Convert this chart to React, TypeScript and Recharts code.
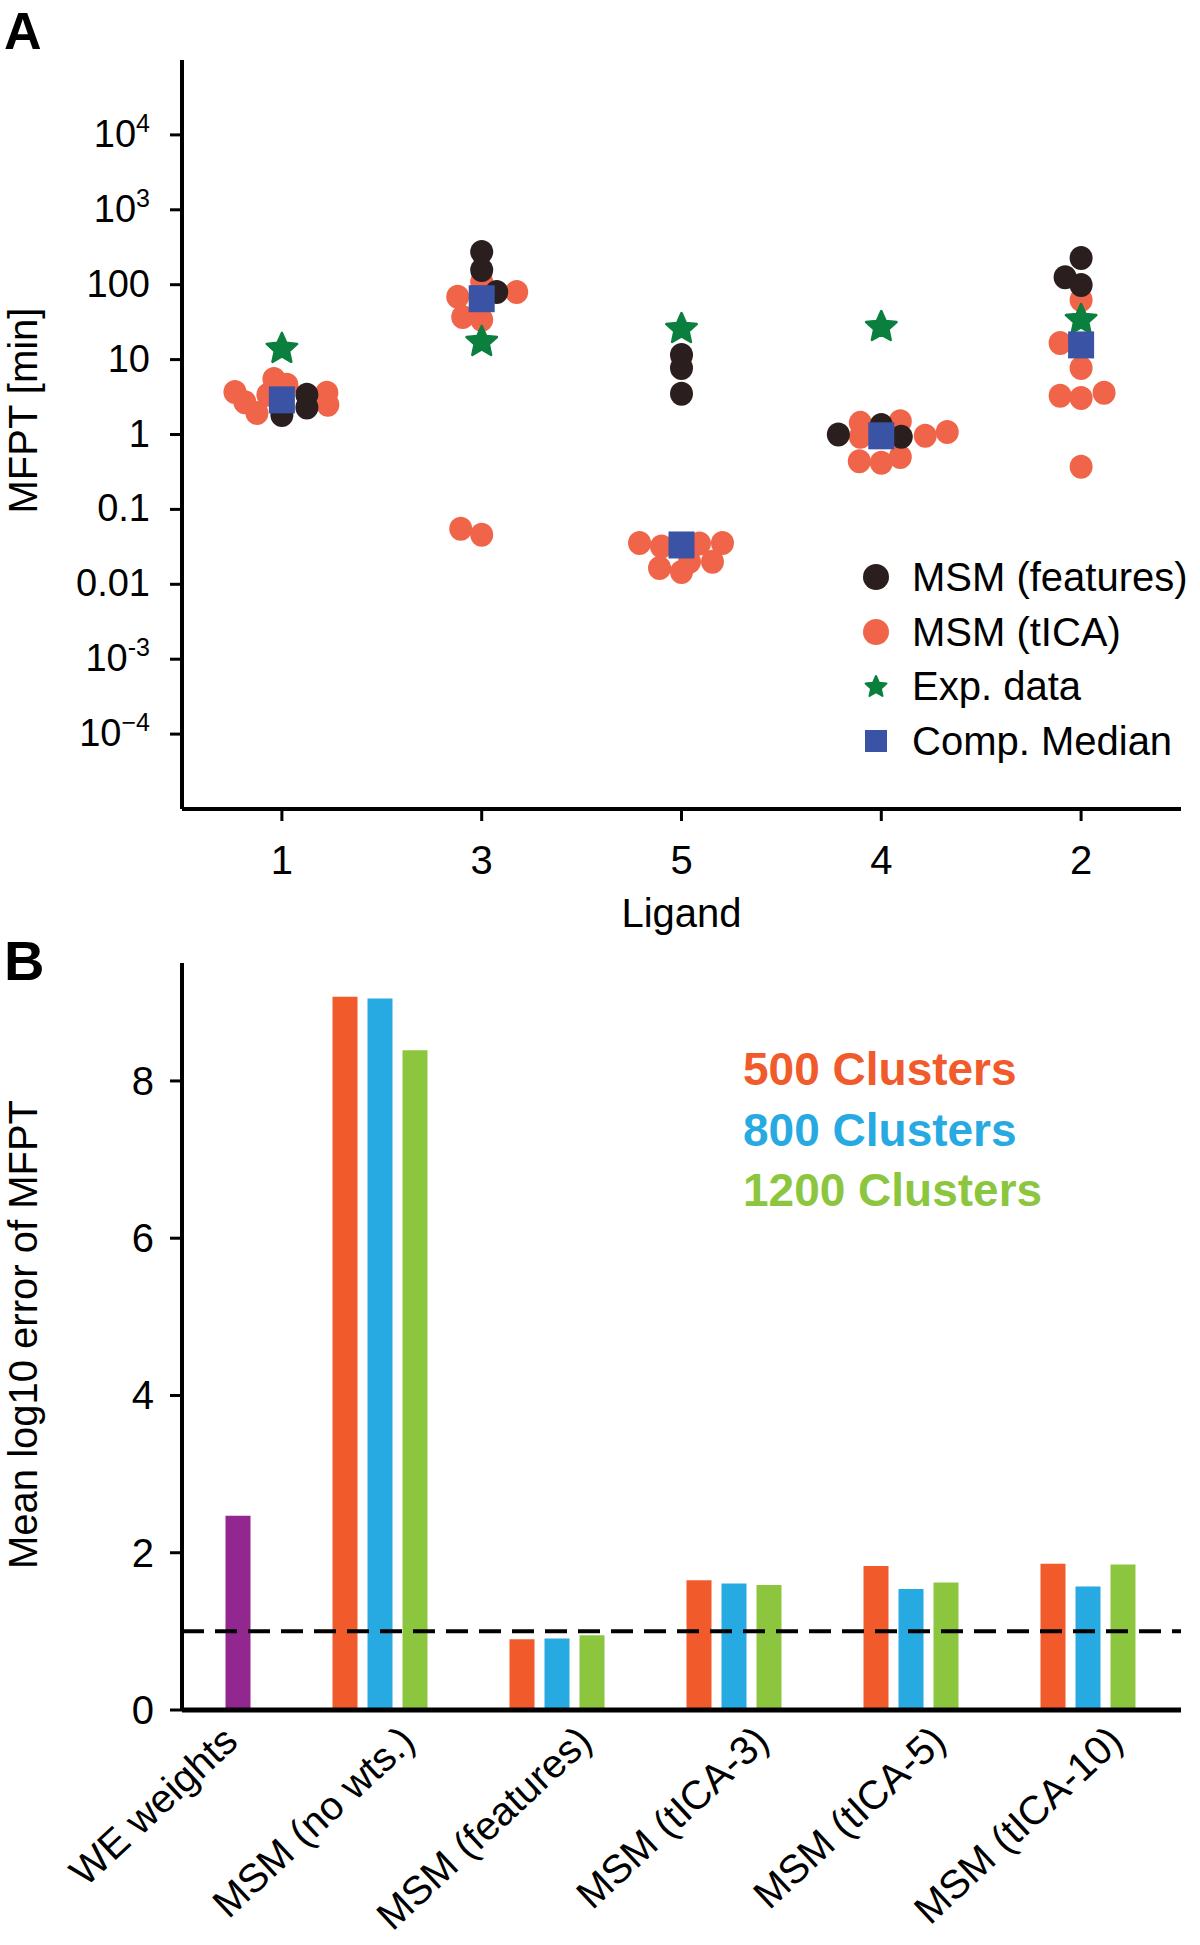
import React from 'react'
import { ScatterChart, Scatter, BarChart, Bar, XAxis, YAxis, Legend, ReferenceLine } from 'recharts'

const FONT = "'Liberation Sans', Arial, Helvetica, sans-serif"

// ---------- panel A: MFPT per ligand ----------
const ligands = ['1', '3', '5', '4', '2']
const mfptTicks = [1e4, 1e3, 100, 10, 1, 0.1, 0.01, 1e-3, 1e-4]
const mfptTickLabels = [['10', '4'], ['10', '3'], ['100'], ['10'], ['1'], ['0.1'], ['0.01'], ['10', '-3'], ['10', '\u22124']]

// [ligand index, swarm offset (in category units), MFPT in min]
const msmTica: [number, number, number][] = [
  [0, -0.235, 3.7], [0, -0.185, 2.7], [0, -0.125, 1.94], [0, -0.07, 3.4], [0, -0.04, 5.5], [0, 0.025, 4.6], [0, 0.225, 3.6], [0, 0.23, 2.5],
  [1, 0.175, 80], [1, -0.12, 69], [1, -0.095, 37], [1, 0, 109], [1, 0, 34], [1, -0.105, 0.055], [1, 0, 0.046],
  [2, -0.21, 0.0356], [2, -0.1, 0.032], [2, 0.09, 0.035], [2, 0.205, 0.0356], [2, -0.11, 0.0165], [2, 0, 0.0146], [2, 0.04, 0.02], [2, 0.155, 0.02],
  [3, -0.105, 1.43], [3, -0.105, 0.93], [3, 0.095, 1.5], [3, 0.22, 0.96], [3, 0.33, 1.08], [3, -0.11, 0.44], [3, 0, 0.42], [3, 0.095, 0.5],
  [4, 0, 62.5], [4, -0.105, 16.7], [4, 0, 7.7], [4, -0.105, 3.3], [4, 0, 3.07], [4, 0.115, 3.6], [4, 0, 0.37],
]
const msmFeatures: [number, number, number][] = [
  [0, 0, 1.82], [0, 0.125, 3.4], [0, 0.125, 2.3],
  [1, 0, 274], [1, 0, 157], [1, 0.075, 80],
  [2, 0, 11.5], [2, 0, 7.7], [2, 0, 3.5],
  [3, -0.215, 1.0], [3, 0, 1.34], [3, 0.1, 0.93],
  [4, 0, 227], [4, -0.08, 126], [4, 0, 99],
]
const expData = [13.9, 17.2, 25.6, 27.2, 33.8]
const compMedian = [2.9, 65, 0.0335, 0.96, 15.7]

// ---------- panel B: mean log10 error ----------
const methods = ['WE weights', 'MSM (no wts.)', 'MSM (features)', 'MSM (tICA-3)', 'MSM (tICA-5)', 'MSM (tICA-10)']
const weWeights = [2.47, null, null, null, null, null]
const clusters500 = [null, 9.07, 0.9, 1.65, 1.83, 1.86]
const clusters800 = [null, 9.05, 0.91, 1.61, 1.54, 1.57]
const clusters1200 = [null, 8.39, 0.95, 1.59, 1.62, 1.85]
const errorTicks = [0, 2, 4, 6, 8]
const targetError = 1
const legendOrderB = ['500 Clusters', '800 Clusters', '1200 Clusters']

const COLORS = {
  features: '#2b1e1e',
  tica: '#f0644a',
  exp: '#0a7f3e',
  median: '#3a53a4',
  c500: '#f15a2b',
  c800: '#27aae1',
  c1200: '#8cc63f',
  we: '#92278f',
}

const toPoints = (rows: [number, number, number][]) => rows.map(([i, dx, v]) => ({ x: i + 1 + dx, y: v }))
const ticaPts = toPoints(msmTica)
const featurePts = toPoints(msmFeatures)
const expPts = expData.map((v, i) => ({ x: i + 1, y: v }))
const medianPts = compMedian.map((v, i) => ({ x: i + 1, y: v }))

const barRows = methods.map((m, i) => ({
  method: m,
  we: weWeights[i],
  c500: clusters500[i],
  c800: clusters800[i],
  c1200: clusters1200[i],
}))

const starPath = (cx: number, cy: number, R: number, r: number) => {
  const pts: string[] = []
  for (let k = 0; k < 10; k++) {
    const a = -Math.PI / 2 + (k * Math.PI) / 5
    const rad = k % 2 === 0 ? R : r
    pts.push(`${cx + rad * Math.cos(a)},${cy + rad * Math.sin(a)}`)
  }
  return `M${pts.join('L')}Z`
}

const Dot = (color: string) => (p: any) => (
  <ellipse cx={p.cx} cy={p.cy} rx={11.5} ry={12} fill={color} />
)
const Star = (p: any) => (
  <path d={starPath(p.cx, p.cy, 16, 7.5)} fill={COLORS.exp} stroke={COLORS.exp} strokeWidth={2.5} strokeLinejoin="round" />
)
const Square = (p: any) => (
  <rect x={p.cx - 13} y={p.cy - 13.5} width={26} height={27} fill={COLORS.median} />
)

const LogTick = ({ x, y, payload }: any) => {
  const i = mfptTicks.findIndex(t => Math.abs(Math.log10(t) - Math.log10(payload.value)) < 1e-6)
  const [base, exp] = mfptTickLabels[i] ?? [String(payload.value)]
  return (
    <text x={x} y={y + 12} textAnchor="end" fontSize={38} fontFamily={FONT} fill="#000">
      {base}
      {exp && <tspan dy={-15} fontSize={25}>{exp}</tspan>}
    </text>
  )
}

const LigandTick = ({ x, y, payload }: any) => (
  <text x={x} y={y + 53} textAnchor="middle" fontSize={40} fontFamily={FONT} fill="#000">
    {ligands[payload.value - 1]}
  </text>
)

const legendOrderA = ['MSM (features)', 'MSM (tICA)', 'Exp. data', 'Comp. Median']

const LegendIcon = ({ name }: { name: string }) => {
  if (name === 'MSM (features)') return <circle cx={20} cy={20} r={13} fill={COLORS.features} />
  if (name === 'MSM (tICA)') return <circle cx={20} cy={20} r={13} fill={COLORS.tica} />
  if (name === 'Exp. data') return <path d={starPath(20, 20, 11, 5.2)} fill={COLORS.exp} stroke={COLORS.exp} strokeWidth={2} strokeLinejoin="round" />
  return <rect x={9} y={9} width={22} height={22} fill={COLORS.median} />
}

const LegendA = ({ payload }: any) => {
  const items = legendOrderA.filter(n => (payload || []).some((p: any) => p.value === n))
  return (
    <div style={{ fontFamily: FONT, fontSize: 40, color: '#000' }}>
      {items.map(n => (
        <div key={n} style={{ display: 'flex', alignItems: 'center', height: 54.7 }}>
          <svg width={40} height={40}><LegendIcon name={n} /></svg>
          <span style={{ marginLeft: 16, whiteSpace: 'nowrap' }}>{n}</span>
        </div>
      ))}
    </div>
  )
}

const LegendB = ({ payload }: any) => {
  const items = legendOrderB
    .map(n => (payload || []).find((p: any) => p.value === n))
    .filter(Boolean)
  return (
    <div style={{ fontFamily: FONT, fontSize: 46, fontWeight: 'bold', lineHeight: '60.5px' }}>
      {items.map((p: any) => (
        <div key={p.value} style={{ color: p.color, whiteSpace: 'nowrap' }}>{p.value}</div>
      ))}
    </div>
  )
}

const ErrTick = ({ x, y, payload }: any) => (
  <text x={x} y={y + 14} textAnchor="end" fontSize={40} fontFamily={FONT} fill="#000">{payload.value}</text>
)

const MethodTick = ({ x, y, payload }: any) => {
  const ax = x + 37
  const ay = y + 34
  return (
    <text x={ax} y={ay} textAnchor="end" transform={`rotate(-43, ${ax}, ${ay})`} fontSize={40} fontFamily={FONT} fill="#000">
      {payload.value}
    </text>
  )
}

const yTitle = (text: string, shift: number) => (props: any) => {
  const vb = props.viewBox
  const cy = vb.y + vb.height / 2 + shift
  return (
    <text x={37} y={cy} transform={`rotate(-90, 37, ${cy})`} textAnchor="middle" fontSize={40} fontFamily={FONT} fill="#000">
      {text}
    </text>
  )
}

const xTitle = (props: any) => {
  const vb = props.viewBox
  return (
    <text x={vb.x + vb.width / 2} y={vb.y + 118} textAnchor="middle" fontSize={40} fontFamily={FONT} fill="#000">
      Ligand
    </text>
  )
}

const panelLabel: React.CSSProperties = {
  position: 'absolute', left: 4, fontFamily: FONT, fontWeight: 'bold', lineHeight: 1, color: '#000',
}

export default function App() {
  return (
    <div style={{ position: 'absolute', left: 0, top: 0, width: 1200, height: 1945, background: '#fff' }}>
      <div style={{ ...panelLabel, fontSize: 52, top: 5 }}>A</div>
      <div style={{ position: 'absolute', left: 0, top: 0 }}>
        <ScatterChart width={1200} height={940} margin={{ top: 60, right: 19, bottom: 0, left: 0 }}>
          <XAxis
            type="number"
            dataKey="x"
            domain={[0.5, 5.5]}
            ticks={[1, 2, 3, 4, 5]}
            interval={0}
            allowDataOverflow
            height={131}
            axisLine={{ stroke: '#000', strokeWidth: 4 }}
            tickLine={{ stroke: '#000', strokeWidth: 3 }}
            tickSize={12}
            tickMargin={0}
            tick={<LigandTick />}
            label={xTitle}
          />
          <YAxis
            type="number"
            dataKey="y"
            scale="log"
            domain={[1e-5, 1e5]}
            ticks={mfptTicks}
            interval={0}
            allowDataOverflow
            width={182}
            axisLine={{ stroke: '#000', strokeWidth: 4 }}
            tickLine={{ stroke: '#000', strokeWidth: 3 }}
            tickSize={12}
            tickMargin={20}
            tick={<LogTick />}
            label={yTitle('MFPT [min]', -24)}
          />
          <Scatter name="MSM (tICA)" data={ticaPts} fill={COLORS.tica} shape={Dot(COLORS.tica)} isAnimationActive={false} />
          <Scatter name="MSM (features)" data={featurePts} fill={COLORS.features} shape={Dot(COLORS.features)} isAnimationActive={false} />
          <Scatter name="Exp. data" data={expPts} fill={COLORS.exp} shape={Star} isAnimationActive={false} />
          <Scatter name="Comp. Median" data={medianPts} fill={COLORS.median} shape={Square} isAnimationActive={false} />
          <Legend
            layout="horizontal"
            verticalAlign="middle"
            align="center"
            content={<LegendA />}
            wrapperStyle={{ position: 'absolute', left: 856, top: 550, width: 344 }}
          />
        </ScatterChart>
      </div>

      <div style={{ ...panelLabel, fontSize: 56, top: 933 }}>B</div>
      <div style={{ position: 'absolute', left: 0, top: 930 }}>
        <BarChart width={1200} height={1015} data={barRows} margin={{ top: 33, right: 19, bottom: 0, left: 0 }} barSize={25} barGap={10}>
          <XAxis
            dataKey="method"
            interval={0}
            height={235}
            padding={{ left: -67.5, right: 4.5 }}
            axisLine={{ stroke: '#000', strokeWidth: 5 }}
            tickLine={false}
            tickSize={0}
            tickMargin={0}
            tick={<MethodTick />}
          />
          <YAxis
            type="number"
            domain={[0, 9.5]}
            ticks={errorTicks}
            interval={0}
            allowDataOverflow
            width={182}
            axisLine={{ stroke: '#000', strokeWidth: 4 }}
            tickLine={{ stroke: '#000', strokeWidth: 3 }}
            tickSize={12}
            tickMargin={16}
            tick={<ErrTick />}
            label={yTitle('Mean log10 error of MFPT', -2)}
          />
          <Bar dataKey="c500" name="500 Clusters" stackId="r" fill={COLORS.c500} isAnimationActive={false} />
          <Bar dataKey="c800" name="800 Clusters" stackId="b" fill={COLORS.c800} isAnimationActive={false} />
          <Bar dataKey="c1200" name="1200 Clusters" stackId="g" fill={COLORS.c1200} isAnimationActive={false} />
          <Bar dataKey="we" name="WE weights" stackId="g" fill={COLORS.we} legendType="none" isAnimationActive={false} />
          <ReferenceLine y={targetError} stroke="#000" strokeWidth={4} strokeDasharray="22 11" />
          <Legend
            layout="horizontal"
            verticalAlign="middle"
            align="center"
            content={<LegendB />}
            wrapperStyle={{ position: 'absolute', left: 743, top: 109, width: 420 }}
          />
        </BarChart>
      </div>
    </div>
  )
}
